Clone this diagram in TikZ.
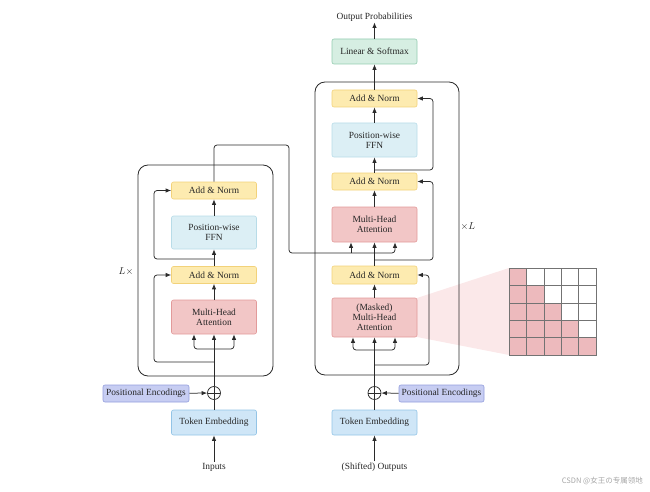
\documentclass[tikz,border=0pt]{standalone}
\usepackage{fontspec}
\setmainfont{Liberation Serif}
\newfontfamily\cjk{Noto Sans CJK SC}
\usetikzlibrary{arrows.meta}
\definecolor{anfill}{HTML}{FDEBB0}
\definecolor{andraw}{HTML}{F2D27A}
\definecolor{fffill}{HTML}{DCEFF5}
\definecolor{ffdraw}{HTML}{B8DCE8}
\definecolor{mhfill}{HTML}{F2C6C6}
\definecolor{mhdraw}{HTML}{E29A9A}
\definecolor{lsfill}{HTML}{D6EEE2}
\definecolor{lsdraw}{HTML}{93CCB0}
\definecolor{pefill}{HTML}{C7CDF2}
\definecolor{pedraw}{HTML}{929DDC}
\definecolor{tefill}{HTML}{CFE6F7}
\definecolor{tedraw}{HTML}{93C4E6}
\definecolor{linec}{HTML}{2A2A2A}
\definecolor{maskc}{HTML}{EDBABD}
\definecolor{conec}{HTML}{FBE8E9}
\tikzset{
  blk/.style={rounded corners=2pt, line width=0.6pt, minimum width=85pt, align=center,
    font=\fontsize{9.4}{10.2}\selectfont, text=black!85, inner sep=1pt},
  addnorm/.style={blk, fill=anfill, draw=andraw, minimum height=17pt},
  ffnbox/.style={blk, fill=fffill, draw=ffdraw, minimum height=33pt},
  attbox/.style={blk, fill=mhfill, draw=mhdraw},
  lsbox/.style={blk, fill=lsfill, draw=lsdraw, minimum height=25pt},
  pebox/.style={blk, fill=pefill, draw=pedraw, minimum height=17pt, minimum width=86pt},
  tebox/.style={blk, fill=tefill, draw=tedraw, minimum height=25pt},
  plusnode/.style={circle, draw=linec, line width=0.75pt, minimum size=13pt, inner sep=0pt,
    path picture={\draw[linec, line width=0.75pt] (path picture bounding box.north) -- (path picture bounding box.south)
      (path picture bounding box.west) -- (path picture bounding box.east);}},
  lbl/.style={font=\fontsize{9.4}{10.2}\selectfont, text=black!85, inner sep=1pt},
  conn/.style={draw=linec, line width=0.75pt, rounded corners=3pt},
  arr/.style={conn, -{Latex[length=5.5pt,width=4.4pt]}},
  layerbox/.style={draw=linec, line width=0.85pt, rounded corners=10pt},
}
\begin{document}
\begin{tikzpicture}[x=1pt,y=-1pt]
\useasboundingbox (0,0) rectangle (650,492);
% mask cone and grid
\fill[conec] (417,298) -- (509,268) -- (509,355) -- (417,337) -- cycle;
\foreach \i in {0,...,4}{
  \foreach \j in {0,...,4}{
    \pgfmathtruncatemacro{\f}{\j<=\i ? 1 : 0}
    \ifnum\f=1
      \filldraw[fill=maskc, draw=black!55, line width=0.4pt] (509+17.4*\j,268+17.4*\i) rectangle ++(17.4,17.4);
    \else
      \filldraw[fill=white, draw=black!55, line width=0.4pt] (509+17.4*\j,268+17.4*\i) rectangle ++(17.4,17.4);
    \fi
  }
}
% layer boxes
\draw[layerbox] (138,165) rectangle (273,376);
\draw[layerbox] (315,82) rectangle (459,375);
\node[lbl, font=\fontsize{10}{11}\selectfont] (lx) at (126,271) {$L\times$};
\node[lbl, font=\fontsize{10}{11}\selectfont] (xl) at (468,226) {$\times L$};
% encoder nodes
\node[addnorm] (eAN2) at (214,190.5) {Add \& Norm};
\node[ffnbox] (eFFN) at (214,232.5) {Position-wise\\FFN};
\node[addnorm] (eAN1) at (214,275) {Add \& Norm};
\node[attbox, minimum height=34pt] (eMHA) at (214,317) {Multi-Head\\Attention};
\node[plusnode] (eplus) at (214,393) {};
\node[pebox] (ePE) at (146,393.5) {Positional Encodings};
\node[tebox] (eTE) at (214,422.5) {Token Embedding};
\node[lbl] (inp) at (214,467) {Inputs};
% decoder nodes
\node[lsbox] (dLS) at (374.5,51.5) {Linear \& Softmax};
\node[lbl] (outp) at (374.5,17) {Output Probabilities};
\node[addnorm] (dAN3) at (374.5,98.5) {Add \& Norm};
\node[ffnbox, minimum height=34pt] (dFFN) at (374.5,140) {Position-wise\\FFN};
\node[addnorm] (dAN2) at (374.5,181.5) {Add \& Norm};
\node[attbox, minimum height=35pt] (dMHA) at (374.5,224.5) {Multi-Head\\Attention};
\node[addnorm, minimum height=18pt] (dAN1) at (374.5,275) {Add \& Norm};
\node[attbox, minimum height=39pt] (dMMHA) at (374.5,317.5) {(Masked)\\Multi-Head\\Attention};
\node[plusnode] (dplus) at (374.5,393) {};
\node[pebox, minimum width=85pt] (dPE) at (441.5,393.5) {Positional Encodings};
\node[tebox] (dTE) at (374.5,422.5) {Token Embedding};
\node[lbl] (sout) at (374.5,467) {(Shifted) Outputs};
% watermark
\node[font=\cjk\fontsize{7.5}{8}\selectfont, text=black!35, anchor=east, inner sep=0pt] (wm) at (643,481) {CSDN @女王の专属领地};
% coordinates
\coordinate (eb) at (214,349);
\coordinate (ebl) at (194,349);
\coordinate (ebr) at (234,349);
\coordinate (er1) at (214,362);
\coordinate (er2) at (214,259);
\coordinate (eout) at (214,145);
\coordinate (db) at (374.5,350);
\coordinate (dbl) at (353,350);
\coordinate (dbr) at (395,350);
\coordinate (dr1) at (374.5,365);
\coordinate (dr2) at (374.5,260);
\coordinate (dr3) at (374.5,170);
\coordinate (xk) at (351,253);
\coordinate (xv) at (395,253);
% encoder connectors
\draw[arr] (inp) -- (eTE);
\draw[conn] (eTE) -- (eplus);
\draw[arr] (ePE) -- (eplus);
\draw[arr] (eplus) -- (eMHA);
\draw[arr] (eb) -- (ebl) -- (ebl |- eMHA.south);
\draw[arr] (eb) -- (ebr) -- (ebr |- eMHA.south);
\draw[arr] (eMHA) -- (eAN1);
\draw[arr] (eAN1) -- (eFFN);
\draw[arr] (eFFN) -- (eAN2);
\draw[arr] (er1) -- (154,362) -- (154,275) -- (eAN1.west);
\draw[arr] (er2) -- (154,259) -- (154,190.5) -- (eAN2.west);
% encoder output to decoder
\draw[arr] (eAN2.north) -- (eout) -- (289,145) -- (289,253) -- (xv) -- (xv |- dMHA.south);
\draw[arr] (xk) -- (xk |- dMHA.south);
% decoder connectors
\draw[arr] (sout) -- (dTE);
\draw[conn] (dTE) -- (dplus);
\draw[arr] (dPE) -- (dplus);
\draw[arr] (dplus) -- (dMMHA);
\draw[arr] (db) -- (dbl) -- (dbl |- dMMHA.south);
\draw[arr] (db) -- (dbr) -- (dbr |- dMMHA.south);
\draw[arr] (dMMHA) -- (dAN1);
\draw[arr] (dr1) -- (429,365) -- (429,275) -- (dAN1.east);
\draw[arr] (dAN1) -- (dMHA);
\draw[arr] (dr2) -- (433,260) -- (433,181.5) -- (dAN2.east);
\draw[arr] (dMHA) -- (dAN2);
\draw[arr] (dAN2) -- (dFFN);
\draw[arr] (dr3) -- (433,170) -- (433,98.5) -- (dAN3.east);
\draw[arr] (dFFN) -- (dAN3);
\draw[arr] (dAN3) -- (dLS);
\draw[arr] (dLS) -- (outp);
\end{tikzpicture}
\end{document}
